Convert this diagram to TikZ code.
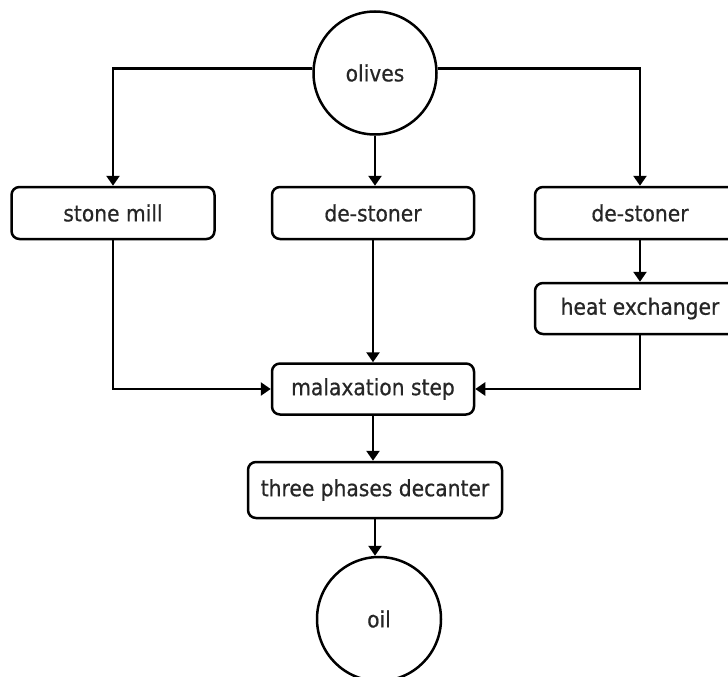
\documentclass[tikz,border=0pt]{standalone}
\usepackage{fontspec}
\setmainfont{DejaVu Sans}[FakeStretch=0.9, FakeBold=0.6]
\usetikzlibrary{arrows.meta,calc}
\begin{document}
\begin{tikzpicture}[x=1pt,y=-1pt,
  every node/.style={font=\fontsize{22.5}{26}\selectfont, text=black!85},
  proc/.style={draw, line width=2.5pt, rounded corners=8pt, inner sep=0pt, minimum height=52pt},
  term/.style={draw, circle, line width=2.5pt, inner sep=0pt, minimum size=123pt},
  flow/.style={line width=2.5pt, -{Triangle[width=13pt,length=10pt]}}
]
\useasboundingbox (0,0) rectangle (728,677);
\node[term] (olives) at (375,73) {olives};
\node[proc, minimum width=203pt] (mill) at (113,213) {stone mill};
\node[proc, minimum width=202pt] (ds1) at (373,213) {de-stoner};
\node[proc, minimum width=210pt] (ds2) at (640,213) {de-stoner};
\node[proc, minimum width=210pt, minimum height=51pt] (heat) at (640,308.5) {heat exchanger};
\node[proc, minimum width=202pt, minimum height=51pt] (malax) at (373,389) {malaxation step};
\node[proc, minimum width=254pt, minimum height=56pt] (dec) at (375,490) {three phases decanter};
\node[term, minimum size=124pt] (oil) at (379,619) {oil};

\draw[flow] (olives.176) -| (mill.north);
\draw[flow] (olives.south) -- (olives.south |- ds1.north);
\draw[flow] (olives.4) -| (ds2.north);
\draw[flow] (ds2.south) -- (heat.north);
\draw[flow] (mill.south) |- (malax.west);
\draw[flow] (ds1.south) -- (malax.north);
\draw[flow] (heat.south) |- (malax.east);
\draw[flow] (malax.south) -- (malax.south |- dec.north);
\draw[flow] (dec.south) -- (dec.south |- oil.north);
\end{tikzpicture}
\end{document}
